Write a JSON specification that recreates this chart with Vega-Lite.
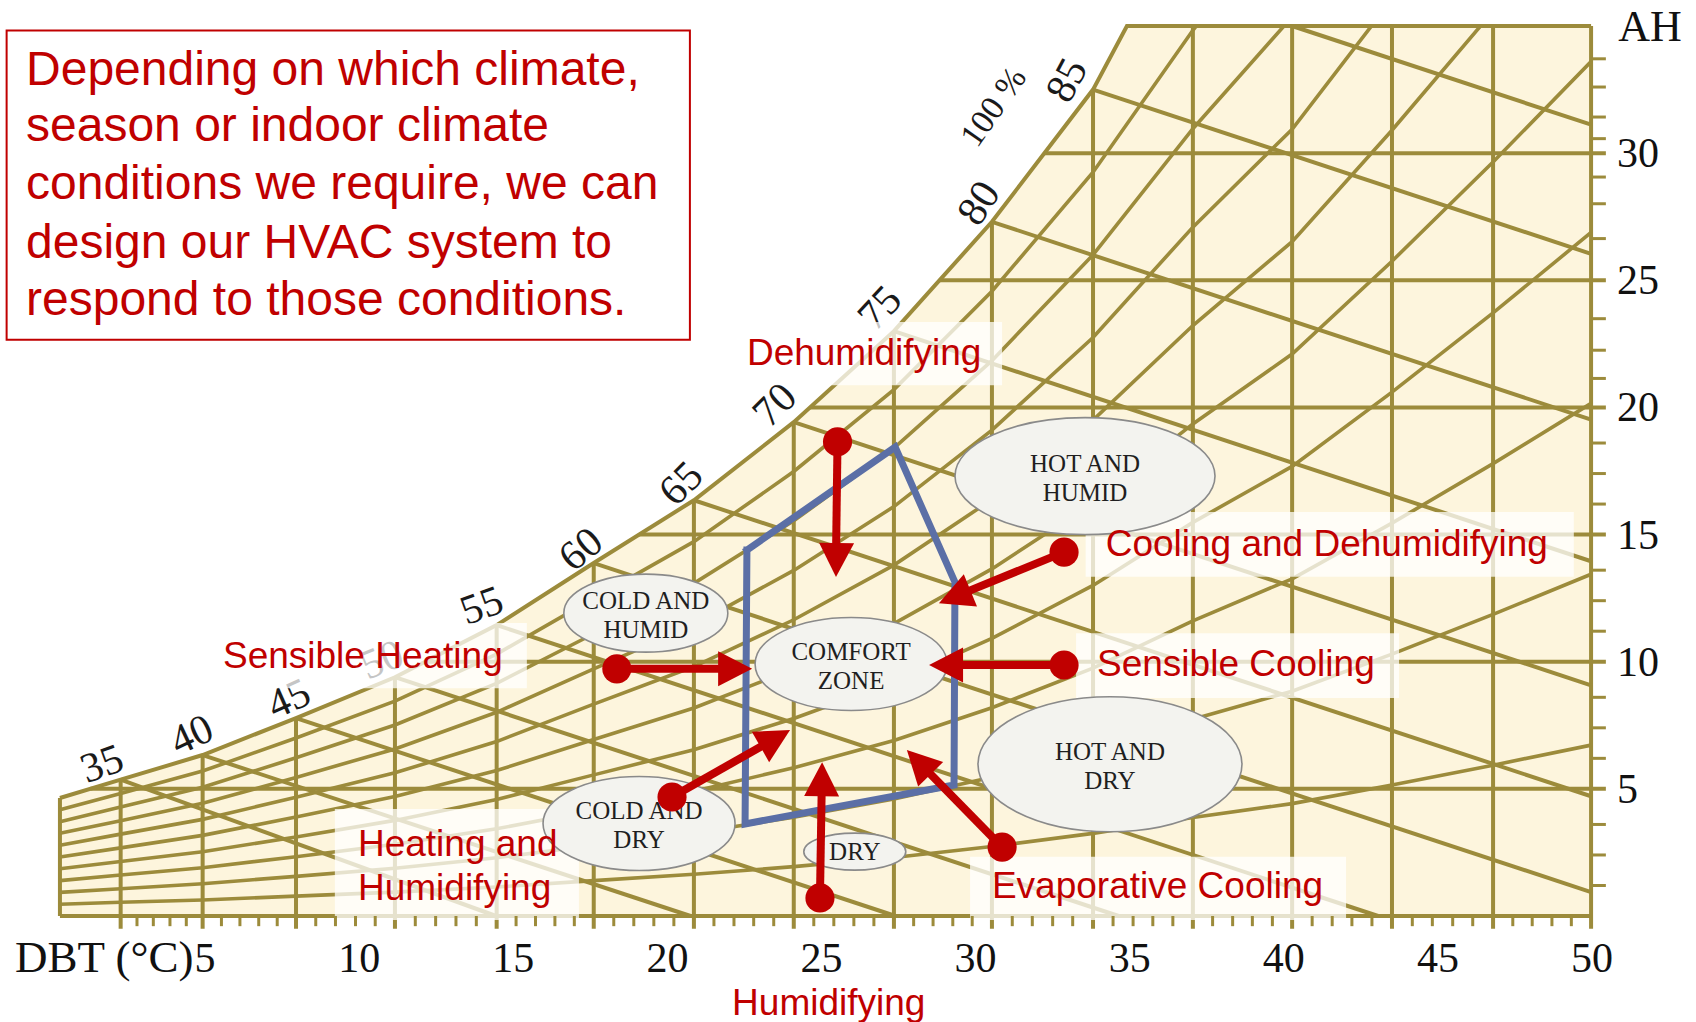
{
  "$schema": "https://vega.github.io/schema/vega-lite/v6.json",
  "width": 1541,
  "height": 890,
  "autosize": "none",
  "padding": {"left": 51, "top": 26, "right": 104, "bottom": 106},
  "background": "#ffffff",
  "config": {"view": {"stroke": null}},
  "datasets": {
    "sat": [
      {"T": 0.29, "AH": 4.64}, {"T": 2.26, "AH": 5.36}, {"T": 4.92, "AH": 6.33}, {"T": 7.95, "AH": 7.78},
      {"T": 11.16, "AH": 9.39}, {"T": 14.46, "AH": 11.44}, {"T": 17.61, "AH": 13.88}, {"T": 20.86, "AH": 16.35},
      {"T": 24.1, "AH": 19.42}, {"T": 27.35, "AH": 23.0}, {"T": 30.53, "AH": 27.3}, {"T": 33.81, "AH": 32.5},
      {"T": 34.91, "AH": 35}, {"T": 49.97, "AH": 35}
    ],
    "vlines": [
      {"T": 0.29, "AH": 0, "AH2": 4.64}, {"T": 2.26, "AH": -0.5, "AH2": 5.36}, {"T": 4.92, "AH": -0.5, "AH2": 6.33},
      {"T": 7.95, "AH": -0.5, "AH2": 7.78}, {"T": 11.16, "AH": -0.5, "AH2": 9.39}, {"T": 14.46, "AH": -0.5, "AH2": 11.44},
      {"T": 17.61, "AH": -0.5, "AH2": 13.88}, {"T": 20.86, "AH": -0.5, "AH2": 16.35}, {"T": 24.1, "AH": -0.5, "AH2": 19.42},
      {"T": 27.35, "AH": -0.5, "AH2": 23.0}, {"T": 30.53, "AH": -0.5, "AH2": 27.3}, {"T": 33.81, "AH": -0.5, "AH2": 32.5},
      {"T": 37.05, "AH": -0.5, "AH2": 35}, {"T": 40.27, "AH": -0.5, "AH2": 35}, {"T": 43.51, "AH": -0.5, "AH2": 35},
      {"T": 46.79, "AH": -0.5, "AH2": 35}, {"T": 49.97, "AH": -0.5, "AH2": 35}
    ],
    "hlines": [
      {"AH": 0, "T": 0.29, "T2": 49.97}, {"AH": 5, "T": 1.28, "T2": 50.45}, {"AH": 10, "T": 12.14, "T2": 50.45},
      {"AH": 15, "T": 19.08, "T2": 50.45}, {"AH": 20, "T": 24.63, "T2": 50.45}, {"AH": 25, "T": 28.83, "T2": 50.45},
      {"AH": 30, "T": 32.23, "T2": 50.45}
    ],
    "wet": [
      {"T": 2.26, "AH": 5.36, "T2": 14.44, "AH2": 0}, {"T": 4.92, "AH": 6.33, "T2": 20.75, "AH2": 0},
      {"T": 7.95, "AH": 7.78, "T2": 27.4, "AH2": 0}, {"T": 11.16, "AH": 9.39, "T2": 34.64, "AH2": 0},
      {"T": 14.46, "AH": 11.44, "T2": 43.06, "AH2": 0}, {"T": 17.61, "AH": 13.88, "T2": 49.97, "AH2": 0.94},
      {"T": 20.86, "AH": 16.35, "T2": 49.97, "AH2": 4.71}, {"T": 24.1, "AH": 19.42, "T2": 49.97, "AH2": 9.07},
      {"T": 27.35, "AH": 23.0, "T2": 49.97, "AH2": 13.95}, {"T": 30.53, "AH": 27.3, "T2": 49.97, "AH2": 19.52},
      {"T": 33.81, "AH": 32.5, "T2": 49.97, "AH2": 26.04}, {"T": 40.27, "AH": 35, "T2": 49.97, "AH2": 31.12}
    ],
    "rh": [
      {"rh": 10, "T": 0.29, "AH": 0.46}, {"rh": 10, "T": 2.26, "AH": 0.54}, {"rh": 10, "T": 4.92, "AH": 0.63}, {"rh": 10, "T": 7.95, "AH": 0.78},
      {"rh": 10, "T": 11.16, "AH": 0.94}, {"rh": 10, "T": 14.46, "AH": 1.14}, {"rh": 10, "T": 17.61, "AH": 1.39}, {"rh": 10, "T": 20.86, "AH": 1.64},
      {"rh": 10, "T": 24.1, "AH": 1.94}, {"rh": 10, "T": 27.35, "AH": 2.3}, {"rh": 10, "T": 30.53, "AH": 2.73}, {"rh": 10, "T": 33.81, "AH": 3.25},
      {"rh": 10, "T": 37.05, "AH": 3.87}, {"rh": 10, "T": 40.27, "AH": 4.42}, {"rh": 10, "T": 43.51, "AH": 5.15}, {"rh": 10, "T": 46.79, "AH": 5.93},
      {"rh": 10, "T": 49.97, "AH": 6.72},
      {"rh": 20, "T": 0.29, "AH": 0.93}, {"rh": 20, "T": 2.26, "AH": 1.07}, {"rh": 20, "T": 4.92, "AH": 1.27}, {"rh": 20, "T": 7.95, "AH": 1.56},
      {"rh": 20, "T": 11.16, "AH": 1.88}, {"rh": 20, "T": 14.46, "AH": 2.29}, {"rh": 20, "T": 17.61, "AH": 2.78}, {"rh": 20, "T": 20.86, "AH": 3.27},
      {"rh": 20, "T": 24.1, "AH": 3.88}, {"rh": 20, "T": 27.35, "AH": 4.6}, {"rh": 20, "T": 30.53, "AH": 5.46}, {"rh": 20, "T": 33.81, "AH": 6.5},
      {"rh": 20, "T": 37.05, "AH": 7.74}, {"rh": 20, "T": 40.27, "AH": 8.84}, {"rh": 20, "T": 43.51, "AH": 10.3}, {"rh": 20, "T": 46.79, "AH": 11.86},
      {"rh": 20, "T": 49.97, "AH": 13.44},
      {"rh": 30, "T": 0.29, "AH": 1.39}, {"rh": 30, "T": 2.26, "AH": 1.61}, {"rh": 30, "T": 4.92, "AH": 1.9}, {"rh": 30, "T": 7.95, "AH": 2.33},
      {"rh": 30, "T": 11.16, "AH": 2.82}, {"rh": 30, "T": 14.46, "AH": 3.43}, {"rh": 30, "T": 17.61, "AH": 4.16}, {"rh": 30, "T": 20.86, "AH": 4.91},
      {"rh": 30, "T": 24.1, "AH": 5.83}, {"rh": 30, "T": 27.35, "AH": 6.9}, {"rh": 30, "T": 30.53, "AH": 8.19}, {"rh": 30, "T": 33.81, "AH": 9.75},
      {"rh": 30, "T": 37.05, "AH": 11.61}, {"rh": 30, "T": 40.27, "AH": 13.26}, {"rh": 30, "T": 43.51, "AH": 15.45}, {"rh": 30, "T": 46.79, "AH": 17.79},
      {"rh": 30, "T": 49.97, "AH": 20.16},
      {"rh": 40, "T": 0.29, "AH": 1.86}, {"rh": 40, "T": 2.26, "AH": 2.14}, {"rh": 40, "T": 4.92, "AH": 2.53}, {"rh": 40, "T": 7.95, "AH": 3.11},
      {"rh": 40, "T": 11.16, "AH": 3.76}, {"rh": 40, "T": 14.46, "AH": 4.58}, {"rh": 40, "T": 17.61, "AH": 5.55}, {"rh": 40, "T": 20.86, "AH": 6.54},
      {"rh": 40, "T": 24.1, "AH": 7.77}, {"rh": 40, "T": 27.35, "AH": 9.2}, {"rh": 40, "T": 30.53, "AH": 10.92}, {"rh": 40, "T": 33.81, "AH": 13.0},
      {"rh": 40, "T": 37.05, "AH": 15.48}, {"rh": 40, "T": 40.27, "AH": 17.68}, {"rh": 40, "T": 43.51, "AH": 20.6}, {"rh": 40, "T": 46.79, "AH": 23.72},
      {"rh": 40, "T": 49.97, "AH": 26.88},
      {"rh": 50, "T": 0.29, "AH": 2.32}, {"rh": 50, "T": 2.26, "AH": 2.68}, {"rh": 50, "T": 4.92, "AH": 3.17}, {"rh": 50, "T": 7.95, "AH": 3.89},
      {"rh": 50, "T": 11.16, "AH": 4.7}, {"rh": 50, "T": 14.46, "AH": 5.72}, {"rh": 50, "T": 17.61, "AH": 6.94}, {"rh": 50, "T": 20.86, "AH": 8.18},
      {"rh": 50, "T": 24.1, "AH": 9.71}, {"rh": 50, "T": 27.35, "AH": 11.5}, {"rh": 50, "T": 30.53, "AH": 13.65}, {"rh": 50, "T": 33.81, "AH": 16.25},
      {"rh": 50, "T": 37.05, "AH": 19.35}, {"rh": 50, "T": 40.27, "AH": 22.1}, {"rh": 50, "T": 43.51, "AH": 25.75}, {"rh": 50, "T": 46.79, "AH": 29.65},
      {"rh": 50, "T": 49.97, "AH": 33.6},
      {"rh": 60, "T": 0.29, "AH": 2.78}, {"rh": 60, "T": 2.26, "AH": 3.22}, {"rh": 60, "T": 4.92, "AH": 3.8}, {"rh": 60, "T": 7.95, "AH": 4.67},
      {"rh": 60, "T": 11.16, "AH": 5.63}, {"rh": 60, "T": 14.46, "AH": 6.86}, {"rh": 60, "T": 17.61, "AH": 8.33}, {"rh": 60, "T": 20.86, "AH": 9.81},
      {"rh": 60, "T": 24.1, "AH": 11.65}, {"rh": 60, "T": 27.35, "AH": 13.8}, {"rh": 60, "T": 30.53, "AH": 16.38}, {"rh": 60, "T": 33.81, "AH": 19.5},
      {"rh": 60, "T": 37.05, "AH": 23.22}, {"rh": 60, "T": 40.27, "AH": 26.52}, {"rh": 60, "T": 43.51, "AH": 30.9}, {"rh": 60, "T": 46.79, "AH": 35.58},
      {"rh": 70, "T": 0.29, "AH": 3.25}, {"rh": 70, "T": 2.26, "AH": 3.75}, {"rh": 70, "T": 4.92, "AH": 4.43}, {"rh": 70, "T": 7.95, "AH": 5.45},
      {"rh": 70, "T": 11.16, "AH": 6.57}, {"rh": 70, "T": 14.46, "AH": 8.01}, {"rh": 70, "T": 17.61, "AH": 9.72}, {"rh": 70, "T": 20.86, "AH": 11.45},
      {"rh": 70, "T": 24.1, "AH": 13.59}, {"rh": 70, "T": 27.35, "AH": 16.1}, {"rh": 70, "T": 30.53, "AH": 19.11}, {"rh": 70, "T": 33.81, "AH": 22.75},
      {"rh": 70, "T": 37.05, "AH": 27.09}, {"rh": 70, "T": 40.27, "AH": 30.94}, {"rh": 70, "T": 43.51, "AH": 36.05},
      {"rh": 80, "T": 0.29, "AH": 3.71}, {"rh": 80, "T": 2.26, "AH": 4.29}, {"rh": 80, "T": 4.92, "AH": 5.06}, {"rh": 80, "T": 7.95, "AH": 6.22},
      {"rh": 80, "T": 11.16, "AH": 7.51}, {"rh": 80, "T": 14.46, "AH": 9.15}, {"rh": 80, "T": 17.61, "AH": 11.1}, {"rh": 80, "T": 20.86, "AH": 13.08},
      {"rh": 80, "T": 24.1, "AH": 15.54}, {"rh": 80, "T": 27.35, "AH": 18.4}, {"rh": 80, "T": 30.53, "AH": 21.84}, {"rh": 80, "T": 33.81, "AH": 26.0},
      {"rh": 80, "T": 37.05, "AH": 30.96}, {"rh": 80, "T": 40.27, "AH": 35.36},
      {"rh": 90, "T": 0.29, "AH": 4.18}, {"rh": 90, "T": 2.26, "AH": 4.82}, {"rh": 90, "T": 4.92, "AH": 5.7}, {"rh": 90, "T": 7.95, "AH": 7.0},
      {"rh": 90, "T": 11.16, "AH": 8.45}, {"rh": 90, "T": 14.46, "AH": 10.3}, {"rh": 90, "T": 17.61, "AH": 12.49}, {"rh": 90, "T": 20.86, "AH": 14.72},
      {"rh": 90, "T": 24.1, "AH": 17.48}, {"rh": 90, "T": 27.35, "AH": 20.7}, {"rh": 90, "T": 30.53, "AH": 24.57}, {"rh": 90, "T": 33.81, "AH": 29.25},
      {"rh": 90, "T": 37.05, "AH": 34.83}, {"rh": 90, "T": 40.27, "AH": 39.78}
    ],
    "xticks": [
      {"T": 2.79}, {"T": 3.32}, {"T": 3.86}, {"T": 4.39}, {"T": 5.53}, {"T": 6.13}, {"T": 6.74}, {"T": 7.34},
      {"T": 8.59}, {"T": 9.23}, {"T": 9.88}, {"T": 10.52}, {"T": 11.82}, {"T": 12.48}, {"T": 13.14}, {"T": 13.8},
      {"T": 15.09}, {"T": 15.72}, {"T": 16.35}, {"T": 16.98}, {"T": 18.26}, {"T": 18.91}, {"T": 19.56}, {"T": 20.21},
      {"T": 21.51}, {"T": 22.16}, {"T": 22.8}, {"T": 23.45}, {"T": 24.75}, {"T": 25.4}, {"T": 26.05}, {"T": 26.7},
      {"T": 27.99}, {"T": 28.62}, {"T": 29.26}, {"T": 29.89}, {"T": 31.19}, {"T": 31.84}, {"T": 32.5}, {"T": 33.15},
      {"T": 34.46}, {"T": 35.11}, {"T": 35.75}, {"T": 36.4}, {"T": 37.69}, {"T": 38.34}, {"T": 38.98}, {"T": 39.63},
      {"T": 40.92}, {"T": 41.57}, {"T": 42.21}, {"T": 42.86}, {"T": 44.17}, {"T": 44.82}, {"T": 45.48}, {"T": 46.13},
      {"T": 47.43}, {"T": 48.06}, {"T": 48.7}, {"T": 49.33}
    ],
    "yticks": [
      {"AH": 1.2}, {"AH": 2.4}, {"AH": 3.6}, {"AH": 6.2}, {"AH": 7.4}, {"AH": 8.6}, {"AH": 11.2}, {"AH": 12.4}, {"AH": 13.6},
      {"AH": 16.2}, {"AH": 17.4}, {"AH": 18.6}, {"AH": 21.14}, {"AH": 22.25}, {"AH": 23.49}, {"AH": 26.64}, {"AH": 28.01},
      {"AH": 29.06}, {"AH": 30.57}, {"AH": 31.42}, {"AH": 32.6}, {"AH": 33.71}
    ],
    "xlabels": [
      {"lab": "5", "T": 5}, {"lab": "10", "T": 10}, {"lab": "15", "T": 15}, {"lab": "20", "T": 20}, {"lab": "25", "T": 25},
      {"lab": "30", "T": 30}, {"lab": "35", "T": 35}, {"lab": "40", "T": 40}, {"lab": "45", "T": 45}, {"lab": "50", "T": 50}
    ],
    "ylabels": [
      {"lab": "5", "AH": 5}, {"lab": "10", "AH": 10}, {"lab": "15", "AH": 15}, {"lab": "20", "AH": 20}, {"lab": "25", "AH": 25}, {"lab": "30", "AH": 30}
    ],
    "satlabels": [
      {"lab": "35", "T": 1.66, "AH": 5.97, "tilt": -20}, {"lab": "40", "T": 4.57, "AH": 7.11, "tilt": -25},
      {"lab": "45", "T": 7.72, "AH": 8.53, "tilt": -24}, {"lab": "50", "T": 10.74, "AH": 10.06, "tilt": -22},
      {"lab": "55", "T": 13.98, "AH": 12.19, "tilt": -20}, {"lab": "60", "T": 17.2, "AH": 14.41, "tilt": -40},
      {"lab": "65", "T": 20.45, "AH": 17.0, "tilt": -45}, {"lab": "70", "T": 23.49, "AH": 20.09, "tilt": -45},
      {"lab": "75", "T": 26.9, "AH": 23.9, "tilt": -47}, {"lab": "80", "T": 30.11, "AH": 28.03, "tilt": -57},
      {"lab": "85", "T": 32.97, "AH": 32.86, "tilt": -62}, {"lab": "100 %", "T": 30.6, "AH": 31.8, "tilt": -55}
    ],
    "boxes": [
      {"T": 22.19, "T2": 30.86, "AH": 20.87, "AH2": 23.36},
      {"T": 5.16, "T2": 15.44, "AH": 8.96, "AH2": 11.52},
      {"T": 33.57, "T2": 49.41, "AH": 13.34, "AH2": 15.89},
      {"T": 33.26, "T2": 43.74, "AH": 8.57, "AH2": 11.12},
      {"T": 29.82, "T2": 42.02, "AH": -0.16, "AH2": 2.33},
      {"T": 9.21, "T2": 17.13, "AH": -0.16, "AH2": 4.21}
    ],
    "zones": [
      {"id": "CH", "txt": "COLD AND\nHUMID", "T": 19.3, "AH": 11.91},
      {"id": "CZ", "txt": "COMFORT\nZONE", "T": 25.96, "AH": 9.91},
      {"id": "HH", "txt": "HOT AND\nHUMID", "T": 33.55, "AH": 17.3},
      {"id": "HD", "txt": "HOT AND\nDRY", "T": 34.36, "AH": 5.97},
      {"id": "CD", "txt": "COLD AND\nDRY", "T": 19.08, "AH": 3.64},
      {"id": "DRY", "txt": "DRY", "T": 26.08, "AH": 2.53}
    ],
    "comfort": [
      {"k": 1, "T": 22.58, "AH": 14.39}, {"k": 2, "T": 27.39, "AH": 18.44}, {"k": 3, "T": 29.33, "AH": 13.13},
      {"k": 4, "T": 29.3, "AH": 5.15}, {"k": 5, "T": 22.52, "AH": 3.62}, {"k": 6, "T": 22.58, "AH": 14.39}
    ],
    "arrows": [
      {"name": "Dehumidifying", "T": 25.52, "AH": 18.65, "T2": 25.47, "AH2": 14.11, "tipT": 25.47, "tipAH": 13.33, "heading": 91},
      {"name": "Sensible Heating", "T": 18.36, "AH": 9.72, "T2": 22.1, "AH2": 9.72, "tipT": 22.75, "tipAH": 9.72, "heading": 0},
      {"name": "Sensible Cooling", "T": 32.87, "AH": 9.87, "T2": 29.14, "AH2": 9.87, "tipT": 28.49, "tipAH": 9.87, "heading": 180},
      {"name": "Cooling and Dehumidifying", "T": 32.87, "AH": 14.31, "T2": 29.41, "AH2": 12.6, "tipT": 28.81, "tipAH": 12.3, "heading": 157.8},
      {"name": "Heating and Humidifying", "T": 20.15, "AH": 4.68, "T2": 23.41, "AH2": 6.92, "tipT": 23.98, "tipAH": 7.31, "heading": 330.4},
      {"name": "Humidifying", "T": 24.95, "AH": 0.71, "T2": 25.01, "AH2": 5.27, "tipT": 25.02, "tipAH": 6.05, "heading": 270.8},
      {"name": "Evaporative Cooling", "T": 30.86, "AH": 2.71, "T2": 28.23, "AH2": 5.96, "tipT": 27.77, "tipAH": 6.53, "heading": 225.6}
    ],
    "labels": [
      {"txt": "Dehumidifying", "T": 22.58, "AH": 22.09},
      {"txt": "Sensible Heating", "T": 5.58, "AH": 10.19},
      {"txt": "Cooling and Dehumidifying", "T": 34.22, "AH": 14.58},
      {"txt": "Sensible Cooling", "T": 33.94, "AH": 9.87},
      {"txt": "Evaporative Cooling", "T": 30.53, "AH": 1.14},
      {"txt": "Heating and", "T": 9.96, "AH": 2.79},
      {"txt": "Humidifying", "T": 9.96, "AH": 1.06},
      {"txt": "Humidifying", "T": 22.1, "AH": -3.46}
    ],
    "notebox": [{"T": -1.44, "T2": 20.73, "AH": 22.66, "AH2": 34.82}],
    "note": [
      {"txt": "Depending on which climate,", "T": -0.81, "AH": 33.24},
      {"txt": "season or indoor climate", "T": -0.81, "AH": 31.01},
      {"txt": "conditions we require, we can", "T": -0.81, "AH": 28.73},
      {"txt": "design our HVAC system to", "T": -0.81, "AH": 26.44},
      {"txt": "respond to those conditions.", "T": -0.81, "AH": 24.17}
    ],
    "xtitle": [{"txt": "DBT (°C)", "T": 4.62, "AH": -2.19}],
    "ytitle": [{"txt": "AH", "T": 50.85, "AH": 34.41}]
  },
  "layer": [
    {
      "encoding": {
        "x": {"field": "T", "type": "quantitative", "scale": {"domain": [0, 50], "nice": false, "zero": false}, "axis": null},
        "y": {"field": "AH", "type": "quantitative", "scale": {"domain": [0, 35], "nice": false, "zero": false}, "axis": null}
      },
      "layer": [
        {"data": {"name": "sat"}, "mark": {"type": "area", "color": "#FDF5DD", "opacity": 1}, "encoding": {"y2": {"datum": 0}}},
        {"data": {"name": "vlines"}, "mark": {"type": "rule", "color": "#9C8B3B", "strokeWidth": 4}, "encoding": {"y2": {"field": "AH2"}}},
        {"data": {"name": "hlines"}, "mark": {"type": "rule", "color": "#9C8B3B", "strokeWidth": 4}, "encoding": {"x2": {"field": "T2"}}},
        {"data": {"name": "wet"}, "mark": {"type": "rule", "color": "#9C8B3B", "strokeWidth": 4}, "encoding": {"x2": {"field": "T2"}, "y2": {"field": "AH2"}}},
        {"data": {"name": "rh"}, "mark": {"type": "line", "color": "#9C8B3B", "strokeWidth": 3.6, "clip": true}, "encoding": {"detail": {"field": "rh", "type": "nominal"}}},
        {"data": {"name": "sat"}, "mark": {"type": "line", "color": "#9C8B3B", "strokeWidth": 4}, "encoding": {}},
        {"data": {"name": "satlabels"}, "mark": {"type": "text", "font": "Liberation Serif", "color": "#1a1a1a", "align": "center", "baseline": "middle"},
         "encoding": {"text": {"field": "lab"}, "angle": {"field": "tilt", "type": "quantitative", "scale": null},
                      "size": {"condition": {"test": "datum.lab === '100 %'", "value": 34}, "value": 42}}},
        {"data": {"name": "boxes"}, "mark": {"type": "rect", "fill": "#ffffff", "fillOpacity": 0.75, "stroke": null}, "encoding": {"x2": {"field": "T2"}, "y2": {"field": "AH2"}}},
        {"data": {"name": "zones"}, "mark": {"type": "point", "filled": true, "fill": "#F3F3EF", "stroke": "#8a8a8a", "strokeWidth": 1.6, "opacity": 1, "fillOpacity": 1, "strokeOpacity": 1, "size": 4},
         "encoding": {"shape": {"field": "id", "type": "nominal", "legend": null,
           "scale": {"domain": ["CH", "CZ", "HH", "HD", "CD", "DRY"],
                     "range": ["M-82 0A82 39 0 1 0 82 0A82 39 0 1 0 -82 0Z",
                               "M-96 0A96 46.5 0 1 0 96 0A96 46.5 0 1 0 -96 0Z",
                               "M-130 0A130 58.5 0 1 0 130 0A130 58.5 0 1 0 -130 0Z",
                               "M-132 0A132 67.5 0 1 0 132 0A132 67.5 0 1 0 -132 0Z",
                               "M-96 0A96 47 0 1 0 96 0A96 47 0 1 0 -96 0Z",
                               "M-51 0A51 18.5 0 1 0 51 0A51 18.5 0 1 0 -51 0Z"]}}}},
        {"data": {"name": "zones"}, "transform": [{"filter": "datum.id !== 'DRY'"}],
         "mark": {"type": "text", "font": "Liberation Serif", "fontSize": 25, "color": "#1f1f1f", "align": "center", "baseline": "middle", "lineBreak": "\n", "lineHeight": 29, "dy": -12},
         "encoding": {"text": {"field": "txt"}}},
        {"data": {"name": "zones"}, "transform": [{"filter": "datum.id === 'DRY'"}],
         "mark": {"type": "text", "font": "Liberation Serif", "fontSize": 25, "color": "#1f1f1f", "align": "center", "baseline": "middle", "dy": 0},
         "encoding": {"text": {"field": "txt"}}},
        {"data": {"name": "comfort"}, "mark": {"type": "line", "color": "#5B6FA6", "strokeWidth": 7, "strokeJoin": "miter", "strokeCap": "square"},
         "encoding": {"order": {"field": "k", "type": "quantitative"}}},
        {"data": {"name": "arrows"}, "mark": {"type": "rule", "color": "#C00000", "strokeWidth": 8}, "encoding": {"x2": {"field": "T2"}, "y2": {"field": "AH2"}}},
        {"data": {"name": "arrows"}, "mark": {"type": "point", "shape": "M0 0L-34 -17.5L-34 17.5Z", "size": 4, "filled": true, "fill": "#C00000", "stroke": null, "opacity": 1},
         "encoding": {"x": {"field": "tipT", "type": "quantitative", "axis": null}, "y": {"field": "tipAH", "type": "quantitative", "axis": null},
                      "angle": {"field": "heading", "type": "quantitative", "scale": null}}},
        {"data": {"name": "arrows"}, "mark": {"type": "point", "shape": "circle", "size": 850, "filled": true, "fill": "#C00000", "stroke": null, "opacity": 1}, "encoding": {}},
        {"data": {"name": "labels"}, "mark": {"type": "text", "font": "Liberation Sans", "fontSize": 37, "color": "#C00000", "align": "left", "baseline": "middle"},
         "encoding": {"text": {"field": "txt"}}},
        {"data": {"name": "notebox"}, "mark": {"type": "rect", "fill": "#ffffff", "stroke": "#C00000", "strokeWidth": 2}, "encoding": {"x2": {"field": "T2"}, "y2": {"field": "AH2"}}},
        {"data": {"name": "note"}, "mark": {"type": "text", "font": "Liberation Sans", "fontSize": 48, "color": "#C00000", "align": "left", "baseline": "middle"},
         "encoding": {"text": {"field": "txt"}}},
        {"data": {"name": "xtitle"}, "mark": {"type": "text", "font": "Liberation Serif", "fontSize": 45, "color": "#111111", "align": "right", "baseline": "alphabetic"},
         "encoding": {"text": {"field": "txt"}}},
        {"data": {"name": "ytitle"}, "mark": {"type": "text", "font": "Liberation Serif", "fontSize": 44, "color": "#111111", "align": "left", "baseline": "alphabetic"},
         "encoding": {"text": {"field": "txt"}}}
      ]
    },
    {"data": {"name": "xticks"}, "mark": {"type": "rule", "color": "#9C8B3B", "strokeWidth": 3},
     "encoding": {"x": {"field": "T", "type": "quantitative", "axis": null}, "y": {"datum": 0, "type": "quantitative", "axis": null}, "y2": {"datum": -0.4}}},
    {"data": {"name": "yticks"}, "mark": {"type": "rule", "color": "#9C8B3B", "strokeWidth": 3},
     "encoding": {"y": {"field": "AH", "type": "quantitative", "axis": null}, "x": {"datum": 49.97, "type": "quantitative", "axis": null}, "x2": {"datum": 50.45}}},
    {"data": {"name": "xlabels"}, "mark": {"type": "text", "font": "Liberation Serif", "fontSize": 42, "color": "#111111", "align": "center", "baseline": "alphabetic"},
     "encoding": {"x": {"field": "T", "type": "quantitative", "axis": null}, "y": {"datum": -2.19, "type": "quantitative", "axis": null}, "text": {"field": "lab"}}},
    {"data": {"name": "ylabels"}, "mark": {"type": "text", "font": "Liberation Serif", "fontSize": 42, "color": "#111111", "align": "left", "baseline": "middle", "dy": 1},
     "encoding": {"y": {"field": "AH", "type": "quantitative", "axis": null}, "x": {"datum": 50.81, "type": "quantitative", "axis": null}, "text": {"field": "lab"}}}
  ]
}
